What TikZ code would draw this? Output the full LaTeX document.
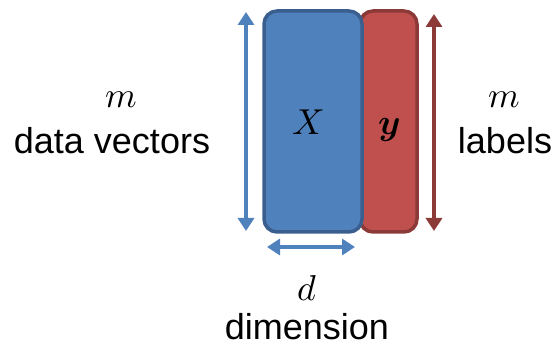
\documentclass[tikz,border=0pt]{standalone}
\usepackage{fontspec}
\usepackage{unicode-math}
\setmainfont{Liberation Sans}
\setmathfont{Latin Modern Math}
\usetikzlibrary{arrows.meta}
\definecolor{bfill}{HTML}{4F81BD}
\definecolor{bdraw}{HTML}{3A5F8E}
\definecolor{rfill}{HTML}{C0504D}
\definecolor{rdraw}{HTML}{8C3A38}
\tikzset{
  blk/.style={line width=3.5pt, rounded corners=13pt},
  dim/.style={line width=3.5pt, {Triangle[width=16pt,length=13pt]}-{Triangle[width=16pt,length=13pt]}},
  txt/.style={font=\fontsize{36}{40}\selectfont, inner sep=0pt, anchor=base},
}
\begin{document}
\begin{tikzpicture}[x=1pt,y=-1pt]
\useasboundingbox (0,0) rectangle (559,347);
% boxes
\draw[blk, draw=rdraw, fill=rfill] (360,11) rectangle (417,232);
\draw[blk, draw=bdraw, fill=bfill] (264,11) rectangle (362,232);
\node[txt] (X) at (308,135) {$X$};
\node[txt] (Y) at (389,135) {$\symbfit{y}$};
% arrows
\coordinate (la1) at (246,12);
\coordinate (la2) at (246,231);
\draw[dim, draw=bfill, fill=bfill] (la1) -- (la2);
\coordinate (ra1) at (434,14);
\coordinate (ra2) at (434,231);
\draw[dim, draw=rdraw, fill=rdraw] (ra1) -- (ra2);
\coordinate (ba1) at (267,247);
\coordinate (ba2) at (355,247);
\draw[dim, draw=bfill, fill=bfill] (ba1) -- (ba2);
% labels
\node[txt] (m1) at (121,108) {$m$};
\node[txt] (dv) at (112,154) {data vectors};
\node[txt] (m2) at (504,108) {$m$};
\node[txt] (lb) at (505,154) {labels};
\node[txt] (d) at (307,300) {$d$};
\node[txt] (dim) at (307,339) {dimension};
\end{tikzpicture}
\end{document}
